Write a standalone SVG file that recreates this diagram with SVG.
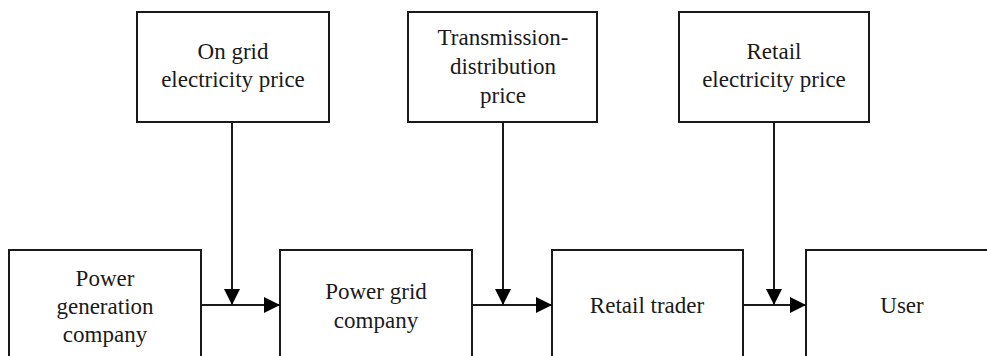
<svg xmlns="http://www.w3.org/2000/svg" width="987" height="356" viewBox="0 0 987 356">
<style>
rect{fill:#fff;stroke:#1a1a1a;stroke-width:2}
.t{font-family:'Times New Roman','Liberation Serif','DejaVu Serif',serif;font-size:23px;fill:#1a1a1a;text-anchor:middle}
.c{stroke:#1a1a1a;stroke-width:2;fill:none}
</style>
<defs>
<marker id="ah" viewBox="0 0 16 16" refX="16" refY="8" markerWidth="16" markerHeight="16" markerUnits="userSpaceOnUse" orient="auto">
<path d="M0,0 L16,8 L0,16 Z" fill="#000"/>
</marker>
</defs>
<rect width="987" height="356" style="stroke:none"/>
<g class="t">
<g id="on-grid"><rect x="137" y="12" width="192" height="110"/><text x="233" y="59">On grid</text><text x="233" y="87">electricity price</text></g>
<g id="transmission"><rect x="408" y="12" width="189" height="110"/><text x="503" y="45">Transmission-</text><text x="503" y="74">distribution</text><text x="503" y="103">price</text></g>
<g id="retail-price"><rect x="679" y="12" width="190" height="110"/><text x="774" y="59">Retail</text><text x="774" y="87">electricity price</text></g>
<g id="power-gen"><rect x="9" y="250" width="192" height="112"/><text x="105" y="286">Power</text><text x="105" y="314">generation</text><text x="105" y="342">company</text></g>
<g id="power-grid"><rect x="280" y="250" width="192" height="112"/><text x="376" y="299">Power grid</text><text x="376" y="328">company</text></g>
<g id="retail-trader"><rect x="552" y="250" width="191" height="112"/><text x="647" y="313">Retail trader</text></g>
<g id="user"><rect x="806" y="250" width="192" height="112"/><text x="902" y="313">User</text></g>
</g>
<g id="connectors">
<line class="c" x1="201" y1="305" x2="280" y2="305" marker-end="url(#ah)"/>
<line class="c" x1="472" y1="305" x2="552" y2="305" marker-end="url(#ah)"/>
<line class="c" x1="743" y1="305" x2="806" y2="305" marker-end="url(#ah)"/>
<line class="c" x1="232" y1="122" x2="232" y2="305" marker-end="url(#ah)"/>
<line class="c" x1="503" y1="122" x2="503" y2="305" marker-end="url(#ah)"/>
<line class="c" x1="774" y1="122" x2="774" y2="305" marker-end="url(#ah)"/>
</g>
</svg>
